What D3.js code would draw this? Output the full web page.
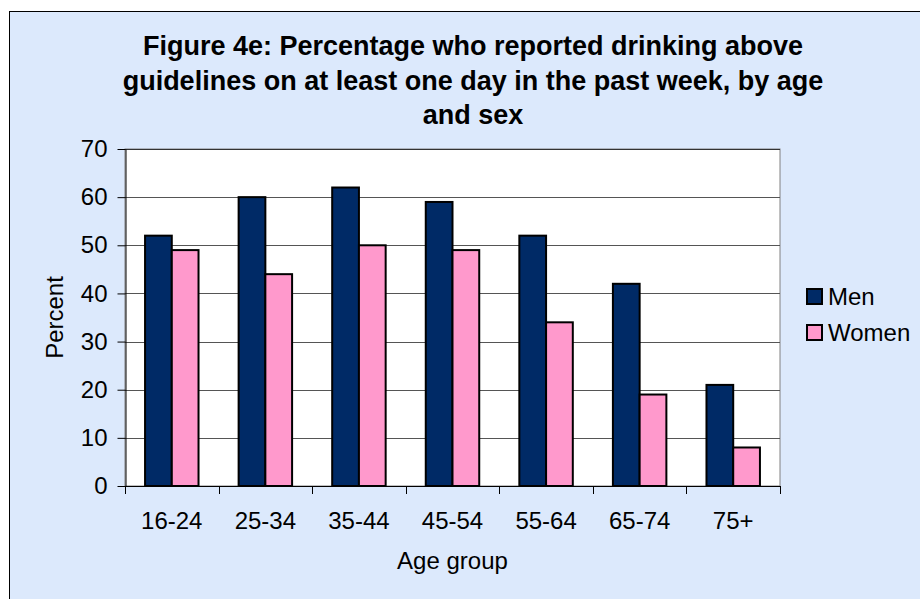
<!DOCTYPE html>
<html lang="en">
<head>
    <meta charset="UTF-8">
    <title>Figure 4e</title>
    <script src="https://cdn.jsdelivr.net/npm/d3@7/dist/d3.min.js"></script>
    <style>
        body { margin: 0; padding: 0; background: #ffffff; }
        svg { display: block; font-family: Arial, "Liberation Sans", sans-serif; }
    </style>
</head>
<body>
<div id="chart"></div>
<script>
    // Data
    const ageGroups = ["16-24", "25-34", "35-44", "45-54", "55-64", "65-74", "75+"];
    const men = [52, 60, 62, 59, 52, 42, 21];
    const women = [49, 44, 50, 49, 34, 19, 8];
    const seriesNames = ["Men", "Women"];
    const yTicks = [0, 10, 20, 30, 40, 50, 60, 70];
    const titleLines = [
        "Figure 4e: Percentage who reported drinking above",
        "guidelines on at least one day in the past week, by age",
        "and sex"
    ];

    const colors = { Men: "#002a66", Women: "#ff99cc" };

    const width = 920, height = 599;
    const plot = { left: 125, right: 780, top: 149, bottom: 486 };
    const fontSize = 24;

    const svg = d3.select("#chart").append("svg")
        .attr("width", width)
        .attr("height", height);

    // outer chart area (extends past the picture on right/bottom)
    svg.append("rect")
        .attr("x", 9.5).attr("y", 11.5)
        .attr("width", 940).attr("height", 620)
        .attr("fill", "#dce9fc")
        .attr("stroke", "#000");

    // Title
    const cx = 473;
    svg.append("g")
        .attr("font-size", 27)
        .attr("font-weight", "bold")
        .attr("text-anchor", "middle")
        .selectAll("text")
        .data(titleLines)
        .join("text")
        .attr("x", cx)
        .attr("y", (d, i) => 55 + i * 34.5)
        .text(d => d);

    // Scales
    const x = d3.scaleBand()
        .domain(ageGroups)
        .range([plot.left, plot.right])
        .paddingInner(1.5 / 3.5)
        .paddingOuter(0.75 / 3.5);

    const xs = d3.scaleBand()
        .domain(seriesNames)
        .range([0, x.bandwidth()]);

    const y = d3.scaleLinear()
        .domain([0, 70])
        .range([plot.bottom, plot.top]);

    // Plot area
    svg.append("rect")
        .attr("x", plot.left).attr("y", plot.top)
        .attr("width", plot.right - plot.left)
        .attr("height", plot.bottom - plot.top)
        .attr("fill", "#fff")
        .attr("stroke", "#808080")
        .attr("stroke-width", 1);

    // Gridlines
    svg.append("g")
        .selectAll("line")
        .data(yTicks.filter(d => d > 0))
        .join("line")
        .attr("x1", plot.left).attr("x2", plot.right)
        .attr("y1", d => Math.round(y(d)) + 0.5)
        .attr("y2", d => Math.round(y(d)) + 0.5)
        .attr("stroke", d => d === 70 ? "#333" : "#555")
        .attr("stroke-width", 1);

    // Bars
    const data = ageGroups.map((g, i) => ({ group: g, values: [
        { key: "Men", value: men[i] },
        { key: "Women", value: women[i] }
    ]}));

    svg.append("g")
        .selectAll("g")
        .data(data)
        .join("g")
        .attr("transform", d => `translate(${x(d.group)},0)`)
        .selectAll("rect")
        .data(d => d.values)
        .join("rect")
        .attr("x", d => xs(d.key))
        .attr("y", d => y(d.value))
        .attr("width", xs.bandwidth())
        .attr("height", d => y(0) - y(d.value))
        .attr("fill", d => colors[d.key])
        .attr("stroke", "#000")
        .attr("stroke-width", 2);

    // Y axis
    const yAxis = d3.axisLeft(y)
        .tickValues(yTicks)
        .tickSize(8)
        .tickPadding(10)
        .tickSizeOuter(0);

    const gy = svg.append("g")
        .attr("transform", `translate(${plot.left + 0.5},0)`)
        .call(yAxis);
    gy.selectAll("text").attr("font-size", fontSize).attr("fill", "#000").attr("font-family", "Arial, 'Liberation Sans', sans-serif");
    gy.select(".domain").attr("stroke", "#000");

    // X axis: ticks at category boundaries
    const boundaries = d3.range(ageGroups.length + 1)
        .map(i => plot.left + i * x.step());

    const gx = svg.append("g");
    gx.append("line")
        .attr("x1", plot.left).attr("x2", plot.right)
        .attr("y1", plot.bottom + 0.5).attr("y2", plot.bottom + 0.5)
        .attr("stroke", "#000");
    gx.selectAll("line.tick")
        .data(boundaries)
        .join("line")
        .attr("class", "tick")
        .attr("x1", d => Math.round(d) + 0.5).attr("x2", d => Math.round(d) + 0.5)
        .attr("y1", plot.bottom).attr("y2", plot.bottom + 8)
        .attr("stroke", "#000");
    gx.selectAll("text")
        .data(ageGroups)
        .join("text")
        .attr("x", d => x(d) + x.bandwidth() / 2)
        .attr("y", 529)
        .attr("text-anchor", "middle")
        .attr("font-size", fontSize)
        .text(d => d);

    // Axis titles
    svg.append("text")
        .attr("x", (plot.left + plot.right) / 2)
        .attr("y", 569)
        .attr("text-anchor", "middle")
        .attr("font-size", fontSize)
        .text("Age group");

    svg.append("text")
        .attr("transform", `translate(63,${(plot.top + plot.bottom) / 2}) rotate(-90)`)
        .attr("text-anchor", "middle")
        .attr("font-size", fontSize)
        .text("Percent");

    // Legend
    const legend = svg.append("g")
        .selectAll("g")
        .data(seriesNames)
        .join("g")
        .attr("transform", (d, i) => `translate(807,${289 + i * 36})`);

    legend.append("rect")
        .attr("width", 15).attr("height", 15)
        .attr("fill", d => colors[d])
        .attr("stroke", "#000")
        .attr("stroke-width", 2);

    legend.append("text")
        .attr("x", 21)
        .attr("y", 16)
        .attr("font-size", fontSize)
        .text(d => d);
</script>
</body>
</html>
